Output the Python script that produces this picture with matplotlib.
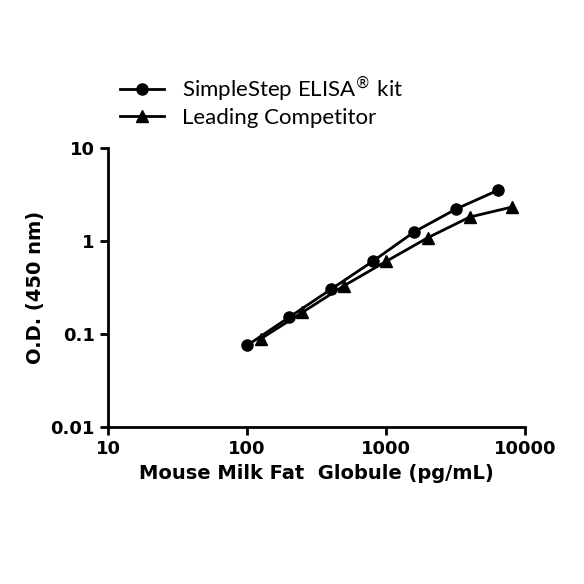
import matplotlib
matplotlib.use("Agg")
import matplotlib.pyplot as plt

x_simple = [100, 200, 400, 800, 1600, 3200, 6400]
y_simple = [0.075, 0.15, 0.30, 0.60, 1.25, 2.2, 3.5]
x_comp = [125, 250, 500, 1000, 2000, 4000, 8000]
y_comp = [0.088, 0.17, 0.33, 0.60, 1.08, 1.8, 2.3]
labels = ["SimpleStep ELISA$^{®}$ kit", "Leading Competitor"]

plt.rcParams['font.family'] = ['Lato', 'DejaVu Sans']
fig = plt.figure(figsize=(5.84, 5.84), dpi=100)
ax = fig.add_axes([0.185, 0.269, 0.714, 0.478])
ax.plot(x_simple, y_simple, 'k-', marker='o', ms=8, lw=2, label=labels[0])
ax.plot(x_comp, y_comp, 'k-', marker='^', ms=8, lw=2, label=labels[1])
ax.set_xscale('log'); ax.set_yscale('log')
ax.set_xlim(10, 10000); ax.set_ylim(0.01, 10)
ax.set_xticks([10, 100, 1000, 10000]); ax.set_xticklabels(['10', '100', '1000', '10000'])
ax.set_yticks([0.01, 0.1, 1, 10]); ax.set_yticklabels(['0.01', '0.1', '1', '10'])
ax.minorticks_off()
for s in ['top', 'right']:
    ax.spines[s].set_visible(False)
for s in ['left', 'bottom']:
    ax.spines[s].set_linewidth(2)
ax.tick_params(width=2, length=6, labelsize=13)
for t in ax.get_xticklabels() + ax.get_yticklabels():
    t.set_fontweight('bold'); t.set_family('DejaVu Sans')
ax.set_xlabel('Mouse Milk Fat  Globule (pg/mL)', fontsize=14, fontweight='bold', family='DejaVu Sans')
ax.set_ylabel('O.D. (450 nm)', fontsize=14, fontweight='bold', family='DejaVu Sans')
ax.legend(loc='lower left', bbox_to_anchor=(-0.02, 1.0), frameon=False, fontsize=16,
          handlelength=2.0, labelspacing=0.15, prop={'size': 16})
fig.savefig('out.png', dpi=100)
